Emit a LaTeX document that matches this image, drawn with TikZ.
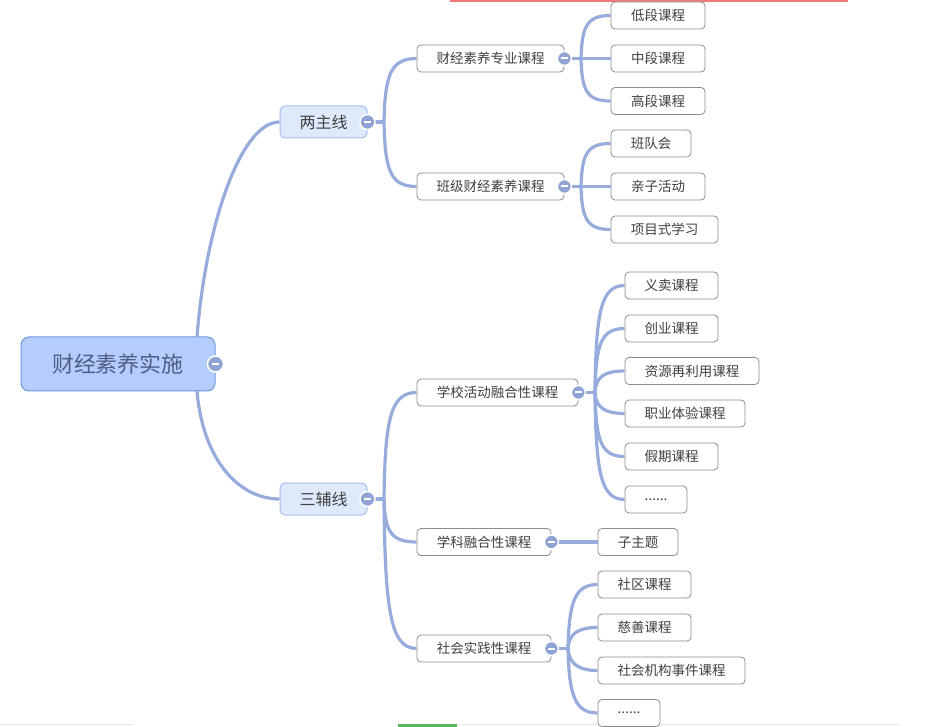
\documentclass[tikz,border=0pt]{standalone}
\usepackage{fontspec}
\setmainfont{Noto Sans CJK SC}
\definecolor{linkc}{HTML}{97ACDC}
\definecolor{btnc}{HTML}{8FA3D5}
\definecolor{rootfill}{HTML}{B4CDFD}
\definecolor{rootdraw}{HTML}{6F95DE}
\definecolor{roottext}{HTML}{4F5F85}
\definecolor{lonefill}{HTML}{DFE9FC}
\definecolor{lonedraw}{HTML}{A5BFEF}
\definecolor{leafdraw}{HTML}{8C8C8C}
\definecolor{txt}{HTML}{404040}
\definecolor{redbar}{HTML}{EE7777}
\definecolor{greenbar}{HTML}{5CB85C}
\definecolor{graybar}{HTML}{E8E8E8}
\begin{document}
\begin{tikzpicture}[x=1pt,y=-1pt,
  rootbox/.style={draw=rootdraw,fill=rootfill,line width=1pt,rounded corners=8pt,
    minimum width=194pt,minimum height=54pt,inner sep=0pt,text=roottext,
    font=\fontsize{22}{26}\selectfont},
  lonebox/.style={draw=lonedraw,fill=lonefill,line width=1pt,rounded corners=5pt,
    minimum width=87pt,minimum height=32pt,inner sep=0pt,text=txt,
    font=\fontsize{16}{19}\selectfont},
  leafbox/.style={draw=leafdraw,fill=white,line width=0.8pt,rounded corners=4pt,
    minimum height=27pt,inner sep=0pt,text=txt,
    font=\fontsize{13.5}{16}\selectfont},
  link/.style={draw=linkc,line width=3.2pt},
  btn/.style={circle,fill=btnc,draw=white,line width=1.5pt,minimum size=#1,inner sep=0pt,
    path picture={\draw[white,line width=2pt]
      ([xshift=-3.3pt]path picture bounding box.center) --
      ([xshift=3.3pt]path picture bounding box.center);}},
  btn/.default=14pt]
\useasboundingbox (0,0) rectangle (943,727);
% screen strips
\fill[redbar] (450,0) rectangle (848,2);
\draw[graybar,line width=1.5pt,line cap=round] (0,724.5) -- (133,724.5);
\draw[graybar,line width=1.5pt] (457,724.5) -- (900,724.5);
\fill[greenbar] (398,724) rectangle (457,727);

% nodes
\node[rootbox] (root) at (118,364) {财经素养实施};
\node[lonebox] (A) at (323.5,122) {两主线};
\node[lonebox] (B) at (323.5,499) {三辅线};

\node[leafbox,minimum width=147pt] (A1) at (490.5,58.5) {财经素养专业课程};
\node[leafbox,minimum width=147pt] (A2) at (490.5,186.5) {班级财经素养课程};
\node[leafbox,minimum width=161pt] (B1) at (497.5,392.5) {学校活动融合性课程};
\node[leafbox,minimum width=134pt] (B2) at (484,542) {学科融合性课程};
\node[leafbox,minimum width=134pt] (B3) at (484,648.5) {社会实践性课程};

\node[leafbox,minimum width=94pt] (a11) at (658,15.5) {低段课程};
\node[leafbox,minimum width=94pt] (a12) at (658,58.5) {中段课程};
\node[leafbox,minimum width=94pt] (a13) at (658,101) {高段课程};
\node[leafbox,minimum width=80pt] (a21) at (651,143.5) {班队会};
\node[leafbox,minimum width=94pt] (a22) at (658,186.5) {亲子活动};
\node[leafbox,minimum width=107pt] (a23) at (664.5,229.5) {项目式学习};

\node[leafbox,minimum width=93pt] (b11) at (671.5,285.5) {义卖课程};
\node[leafbox,minimum width=93pt] (b12) at (671.5,328.5) {创业课程};
\node[leafbox,minimum width=134pt] (b13) at (692,371) {资源再利用课程};
\node[leafbox,minimum width=120pt] (b14) at (685,413.5) {职业体验课程};
\node[leafbox,minimum width=93pt] (b15) at (671.5,456.5) {假期课程};
\node[leafbox,minimum width=62pt] (b16) at (656,499.5) {......};
\node[leafbox,minimum width=80pt] (b21) at (638,542) {子主题};
\node[leafbox,minimum width=93pt] (b31) at (644.5,584.5) {社区课程};
\node[leafbox,minimum width=93pt] (b32) at (644.5,627.5) {慈善课程};
\node[leafbox,minimum width=147pt] (b33) at (671.5,670.5) {社会机构事件课程};
\node[leafbox,minimum width=62pt] (b34) at (629,713) {......};

% stem coordinates
\coordinate (rt) at (197,337);
\coordinate (rb) at (197,391);
\coordinate (As) at (384,122);
\coordinate (Bs) at (384,499);
\coordinate (A1s) at (581,58.5);
\coordinate (A2s) at (581,186.5);
\coordinate (B1s) at (595,392.5);
\coordinate (B3s) at (568,648.5);

% connectors
\draw[link] (rt) .. controls +(8,-107) and +(-40,0) .. (A.west);
\draw[link] (rb) .. controls +(6,70) and +(-40,0) .. (B.west);

\draw[link] (A.east) -- (As);
\draw[link] (As) .. controls +(1,-47) and +(-26,0) .. (A1.west);
\draw[link] (As) .. controls +(1,49) and +(-26,0) .. (A2.west);

\draw[link] (B.east) -- (Bs);
\draw[link] (Bs) .. controls +(1,-80) and +(-26,0) .. (B1.west);
\draw[link] (Bs) .. controls +(1,32) and +(-26,0) .. (B2.west);
\draw[link] (Bs) .. controls +(1,112) and +(-26,0) .. (B3.west);

\draw[link] (A1.east) -- (A1s) -- (a12.west);
\draw[link] (A1s) .. controls +(1,-32) and +(-24,0) .. (a11.west);
\draw[link] (A1s) .. controls +(1,32) and +(-24,0) .. (a13.west);

\draw[link] (A2.east) -- (A2s) -- (a22.west);
\draw[link] (A2s) .. controls +(1,-32) and +(-24,0) .. (a21.west);
\draw[link] (A2s) .. controls +(1,32) and +(-24,0) .. (a23.west);

\draw[link] (B1.east) -- (B1s);
\draw[link] (B1s) .. controls +(1,-80) and +(-24,0) .. (b11.west);
\draw[link] (B1s) .. controls +(1,-48) and +(-24,0) .. (b12.west);
\draw[link] (B1s) .. controls +(1,-16) and +(-20,0) .. (b13.west);
\draw[link] (B1s) .. controls +(1,15) and +(-20,0) .. (b14.west);
\draw[link] (B1s) .. controls +(1,48) and +(-24,0) .. (b15.west);
\draw[link] (B1s) .. controls +(1,80) and +(-24,0) .. (b16.west);

\draw[link] (B2.east) -- (b21.west);

\draw[link] (B3.east) -- (B3s);
\draw[link] (B3s) .. controls +(1,-48) and +(-22,0) .. (b31.west);
\draw[link] (B3s) .. controls +(1,-16) and +(-18,0) .. (b32.west);
\draw[link] (B3s) .. controls +(1,16) and +(-18,0) .. (b33.west);
\draw[link] (B3s) .. controls +(1,48) and +(-22,0) .. (b34.west);

% collapse buttons
\node[btn=16pt] (broot) at (root.east) {};
\node[btn=15pt] (bA) at (A.east) {};
\node[btn=15pt] (bB) at (B.east) {};
\node[btn] (bA1) at (A1.east) {};
\node[btn] (bA2) at (A2.east) {};
\node[btn] (bB1) at (B1.east) {};
\node[btn] (bB2) at (B2.east) {};
\node[btn] (bB3) at (B3.east) {};
\end{tikzpicture}
\end{document}
